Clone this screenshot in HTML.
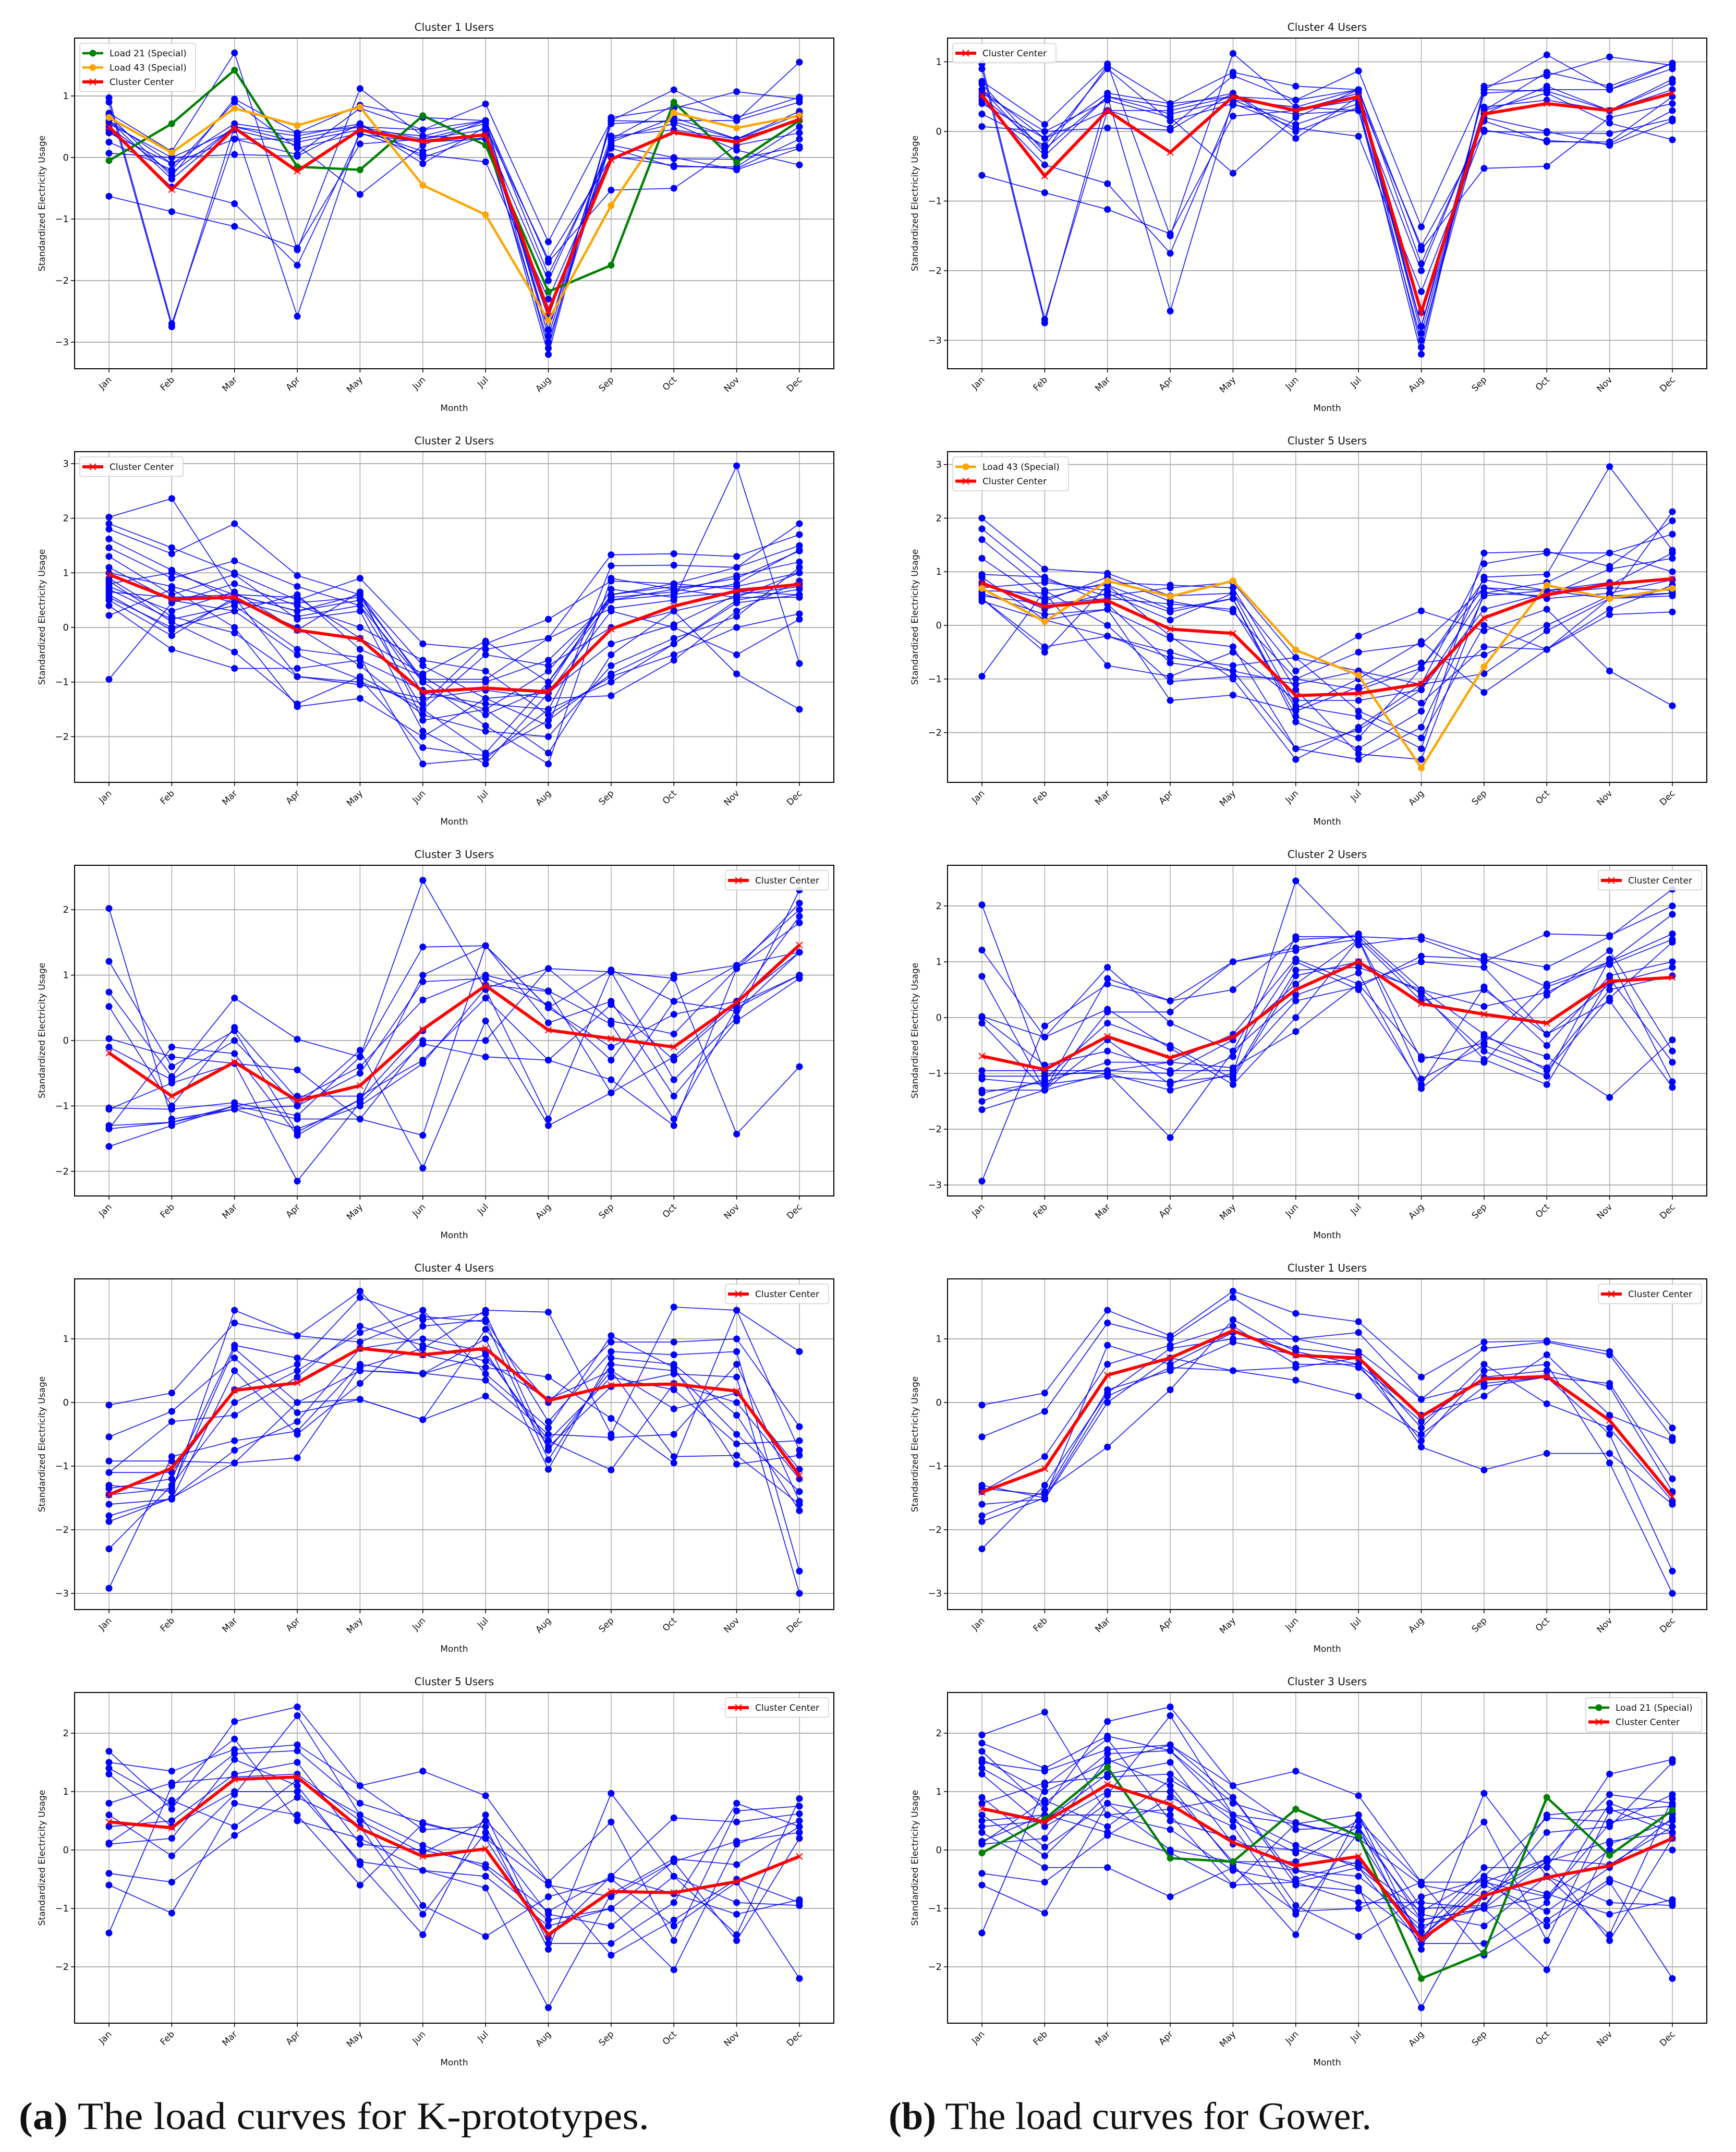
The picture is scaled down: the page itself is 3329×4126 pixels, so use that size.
<!DOCTYPE html>
<html><head><meta charset="utf-8">
<style>
html,body{margin:0;padding:0;background:#fff;}
svg{display:block;}
text{font-family:"DejaVu Sans","Liberation Sans",sans-serif;fill:#111;}
.cap{font-family:"Liberation Serif",serif;}
</style></head>
<body>
<svg id="fig" xmlns="http://www.w3.org/2000/svg" width="3329" height="4126" viewBox="0 0 3329 4126">
<text class="cap" x="36" y="4082" font-size="74" textLength="1209" lengthAdjust="spacingAndGlyphs"><tspan font-weight="bold">(a)</tspan> The load curves for K-prototypes.</text>
<text class="cap" x="1704" y="4082" font-size="74" textLength="926" lengthAdjust="spacingAndGlyphs"><tspan font-weight="bold">(b)</tspan> The load curves for Gower.</text>
</svg>
<script>
const months = ["Jan","Feb","Mar","Apr","May","Jun","Jul","Aug","Sep","Oct","Nov","Dec"];

// ---- K-prototypes Cluster 1 ----
const k1Center = [0.5,-0.52,0.48,-0.22,0.45,0.26,0.37,-2.5,-0.03,0.41,0.25,0.62];
const k1Load21 = [-0.05,0.55,1.42,-0.15,-0.2,0.68,0.2,-2.18,-1.75,0.9,-0.08,0.6];
const k1Load43 = [0.65,0.08,0.8,0.52,0.82,-0.45,-0.93,-2.65,-0.78,0.73,0.48,0.68];
const k1Users = [
[0.97,-2.7,0.3,0.3,0.5,0.3,0.55,-3.1,0.6,1.1,0.6,1.55],
[0.9,-2.75,0.5,-2.58,0.45,0.1,0.4,-3.2,0.65,0.8,1.07,0.95],
[0.72,0.1,1.7,-1.5,1.12,0.35,0.6,-2.8,0.55,0.6,0.6,0.9],
[0.68,-0.3,0.95,0.4,0.85,0.65,0.6,-2.9,0.3,0.85,0.65,0.98],
[0.6,-0.1,0.55,0.4,0.5,0.45,0.87,-1.37,0.6,0.58,0.3,0.75],
[0.55,0.0,0.45,0.2,-0.6,0.2,0.6,-1.7,-0.53,-0.5,0.2,0.4],
[0.5,-0.25,0.5,0.35,0.55,0.0,0.35,-2.0,0.2,0.0,-0.2,0.15],
[0.4,-0.1,0.3,0.05,0.8,0.45,0.6,-1.9,0.15,-0.15,-0.15,0.5],
[0.25,-0.2,0.9,0.15,0.4,0.05,-0.07,-2.3,0.02,-0.13,-0.18,0.3],
[0.07,0.0,0.05,0.02,0.55,-0.1,0.5,-1.65,0.0,-0.02,-0.03,0.18],
[-0.63,-0.88,-1.12,-1.47,0.22,0.3,0.45,-2.8,0.3,0.55,0.12,-0.12],
[0.45,-0.48,-0.75,-1.75,0.38,0.25,0.3,-3.0,0.25,0.65,0.3,0.6],
[0.6,-0.35,0.5,0.25,0.45,0.35,0.3,-2.6,0.35,0.45,0.3,0.7]];

// ---- K-prototypes Cluster 2 ----
const k2Center = [0.97,0.52,0.55,-0.05,-0.21,-1.18,-1.11,-1.18,-0.03,0.39,0.67,0.79];
const k2Users = [
[2.02,2.36,0.6,0.3,0.5,-1.2,-1.4,-1.5,0.6,0.8,1.1,1.9],
[1.9,1.46,1.0,0.5,0.9,-0.3,-0.4,-0.2,1.33,1.35,1.3,1.7],
[1.8,1.35,1.9,0.95,0.6,-0.7,-1.3,-1.8,1.13,1.14,1.1,1.5],
[1.62,1.05,0.5,0.2,0.4,-1.0,-1.8,-2.5,0.9,0.7,0.55,1.0],
[1.46,0.9,1.22,0.75,0.4,-1.5,-2.3,-1.0,0.5,0.6,0.8,1.42],
[1.3,0.6,0.97,0.15,0.3,-1.9,-2.5,-1.2,0.3,0.0,-0.5,0.15],
[1.1,0.5,0.3,0.6,-0.4,-0.9,-1.6,-1.1,0.7,0.55,0.65,0.6],
[0.9,0.2,-0.1,-0.9,-1.0,-1.4,-0.3,0.15,0.85,0.8,0.7,0.8],
[0.85,0.1,-0.45,-1.4,-0.9,-1.5,-0.5,-0.7,0.0,0.3,-0.85,-1.5],
[0.75,0.3,0.65,-0.05,0.65,-1.7,-1.5,-2.3,-0.5,0.3,0.55,0.55],
[0.7,0.15,0.4,-0.4,-0.55,-2.5,-2.4,-1.5,-1.0,-0.3,0.5,0.7],
[0.65,0.55,0.6,0.3,0.6,-1.0,-1.0,-0.6,0.5,0.7,0.9,1.4],
[0.6,-0.05,0.5,0.0,-0.7,-1.6,-1.9,-2.0,-0.7,-0.2,0.2,1.1],
[0.5,-0.15,0.55,-0.9,-1.05,-1.3,-1.15,-1.3,-1.25,-0.6,0.3,0.85],
[0.4,-0.4,-0.75,-0.75,-0.6,-1.15,-1.5,-0.8,0.55,0.65,0.95,1.2],
[0.22,0.7,0.0,-1.45,-1.3,-2.0,-1.3,-1.2,-0.3,0.05,0.6,0.75],
[-0.95,0.45,0.8,0.4,0.0,-0.6,-0.8,-1.6,-0.9,-0.5,0.0,0.25],
[1.0,0.75,0.45,0.45,0.55,-0.95,-0.95,-0.2,0.35,0.5,2.96,-0.66],
[0.8,1.0,0.6,0.55,-0.2,-0.85,-0.25,-1.0,0.6,0.75,0.75,1.0],
[0.55,0.0,0.3,-0.5,-0.95,-2.2,-2.35,-1.7,-0.85,-0.3,0.45,0.6]];

// ---- K-prototypes Cluster 3 ----
const k3Center = [-0.19,-0.85,-0.33,-0.92,-0.69,0.17,0.84,0.16,0.03,-0.1,0.58,1.46];
const k3Users = [
[2.02,-1.2,-1.05,-1.35,-1.0,-0.35,0.8,1.1,0.3,0.1,1.1,2.1],
[1.21,-0.4,0.15,-1.4,-0.9,1.0,1.45,0.5,1.08,0.6,1.15,1.35],
[0.74,-0.55,0.65,0.02,-0.25,2.45,0.78,-1.2,1.05,-0.6,0.35,2.3],
[0.52,-1.0,0.2,-0.9,-0.4,0.62,1.0,0.76,0.25,-1.2,0.5,1.0],
[0.03,-0.25,-0.35,-0.45,-1.2,-1.45,1.45,0.5,-0.1,0.4,0.6,1.9],
[-0.1,-0.6,0.0,-1.0,-0.5,0.9,0.95,0.55,-0.3,1.0,1.15,2.0],
[-1.03,-1.05,-0.95,-1.15,-0.25,1.43,1.45,0.27,0.6,-0.85,0.3,0.95],
[-1.3,-1.25,-1.0,-0.85,-0.85,-0.3,0.65,-0.3,-0.6,-1.3,1.1,1.8],
[-1.35,-1.25,-1.05,-1.0,-0.15,-1.95,0.3,-1.3,-0.8,0.6,0.45,1.35],
[-1.62,-1.3,-1.0,-1.2,-1.2,0.0,0.0,1.1,1.05,0.95,-1.43,-0.4],
[-1.35,-0.1,-0.2,-1.45,-0.9,0.15,0.85,0.75,-0.8,-0.25,0.6,1.35],
[-1.05,-0.65,-0.35,-2.15,-0.95,-0.05,-0.25,-0.3,0.55,-0.3,0.55,1.0]];

// ---- K-prototypes Cluster 4 ----
const k4Center = [-1.45,-1.03,0.19,0.31,0.85,0.75,0.85,0.03,0.27,0.29,0.18,-1.15];
const k4Users = [
[-0.04,0.15,1.25,1.05,1.75,0.75,0.55,0.4,-0.25,-0.95,1.45,0.8],
[-0.54,-0.14,0.7,-0.16,0.05,-0.27,1.15,0.0,0.95,0.95,1.0,-0.38],
[-0.92,-0.92,-0.95,-0.87,0.55,0.85,1.45,1.42,-0.5,1.5,1.45,-0.75],
[-1.1,-1.1,0.2,0.6,1.65,1.3,1.4,-0.75,0.5,-0.85,-0.83,-1.6],
[-1.3,-1.4,1.45,1.05,0.95,1.35,1.27,-0.9,0.6,0.5,-0.5,-1.4],
[-1.35,-1.2,0.9,0.7,0.5,0.46,0.35,-0.5,-0.55,-0.5,0.6,-1.55],
[-1.45,-1.35,0.85,0.0,0.5,0.45,1.0,-1.05,0.7,0.6,-0.2,-1.7],
[-1.6,-1.52,0.5,-0.5,0.3,1.2,1.3,-0.3,0.8,0.75,0.8,-2.65],
[-1.78,-1.5,-0.75,-0.3,0.85,1.0,0.8,-0.7,0.25,0.45,0.4,-3.0],
[-1.87,-1.5,-0.95,0.0,0.05,-0.27,0.1,-0.6,-1.06,0.3,0.0,-1.2],
[-2.3,-1.3,0.0,0.5,1.1,1.45,0.45,-0.4,1.05,0.55,-0.97,-0.83],
[-2.92,-0.85,-0.6,-0.45,0.6,0.45,0.75,-0.6,0.4,0.2,-0.65,-0.6],
[-1.1,-0.3,-0.2,0.4,1.2,0.9,0.65,0.05,0.5,-0.1,0.15,-1.05]];

// ---- K-prototypes Cluster 5 ----
const k5Center = [0.48,0.38,1.21,1.25,0.37,-0.11,0.02,-1.45,-0.71,-0.73,-0.54,-0.11];
const k5Users = [
[1.69,0.7,2.2,2.45,1.1,0.35,0.4,-1.7,0.97,-0.45,-1.45,0.88],
[1.5,1.35,1.72,1.8,1.1,1.35,0.93,-0.55,0.48,-1.55,0.67,0.75],
[1.4,0.8,1.65,1.7,0.8,0.47,0.2,-1.5,-0.45,0.55,0.48,0.62],
[1.3,0.4,1.0,1.0,-0.2,-0.35,-0.65,-2.7,-0.75,-0.15,-0.25,0.4],
[0.8,1.15,1.25,1.3,0.5,-0.05,0.5,-0.55,-1.8,-1.2,-0.5,-0.9],
[0.6,-0.1,0.95,2.3,0.6,0.08,-0.3,-1.2,-1.0,-0.2,-1.55,0.2],
[0.12,0.85,0.4,1.2,0.6,-0.95,-1.48,-0.8,-0.5,-1.3,-0.55,-2.2],
[0.1,0.2,1.55,1.1,-0.25,-1.45,0.6,-1.6,-1.6,-0.9,0.8,0.4],
[-0.4,-0.55,0.25,0.9,0.4,-1.1,0.3,-1.1,-1.3,-0.45,-0.9,-0.95],
[-0.6,-1.08,0.8,0.6,-0.6,0.45,0.2,-0.6,-0.8,-0.2,0.15,0.3],
[-1.42,1.1,1.9,0.5,0.2,-0.35,-0.45,-1.3,-1.0,-2.05,0.1,0.5],
[0.4,0.5,1.3,1.5,0.1,0.0,-0.25,-1.05,-0.45,-0.75,-1.1,-0.85]];

// ---- Gower Cluster 4 ----
const g4Center = [0.52,-0.64,0.3,-0.3,0.5,0.3,0.5,-2.6,0.25,0.4,0.3,0.55];
const g4Users = [
[0.97,-2.7,0.3,0.3,0.5,0.3,0.55,-3.1,0.6,1.1,0.6,0.98],
[0.9,-2.75,0.5,-2.58,0.45,0.1,0.4,-3.2,0.65,0.8,1.07,0.95],
[0.72,0.1,0.97,-1.5,1.12,0.35,0.6,-2.8,0.55,0.6,0.6,0.9],
[0.68,-0.3,0.95,0.4,0.85,0.65,0.6,-2.9,0.3,0.85,0.65,0.98],
[0.6,-0.1,0.55,0.4,0.5,0.45,0.87,-1.37,0.6,0.58,0.3,0.75],
[0.55,0.0,0.45,0.2,-0.6,0.2,0.6,-1.7,-0.53,-0.5,0.2,0.4],
[0.5,-0.25,0.5,0.35,0.55,0.0,0.35,-2.0,0.2,0.0,-0.2,0.15],
[0.4,-0.1,0.3,0.05,0.8,0.45,0.6,-1.9,0.15,-0.15,-0.15,0.5],
[0.25,-0.2,0.9,0.15,0.4,0.05,-0.07,-2.3,0.02,-0.13,-0.18,0.3],
[0.07,0.0,0.05,0.02,0.55,-0.1,0.5,-1.65,0.0,-0.02,-0.03,0.18],
[-0.63,-0.88,-1.12,-1.47,0.22,0.3,0.45,-2.8,0.3,0.55,0.12,-0.12],
[0.45,-0.48,-0.75,-1.75,0.38,0.25,0.3,-3.0,0.25,0.65,0.3,0.6],
[0.6,-0.35,0.5,0.25,0.45,0.35,0.3,-2.6,0.35,0.45,0.3,0.7]];

// ---- Gower Cluster 5 ----
const g5Center = [0.79,0.35,0.46,-0.07,-0.15,-1.31,-1.27,-1.09,0.14,0.57,0.77,0.87];
const g5Load43 = [0.69,0.07,0.83,0.54,0.83,-0.46,-0.93,-2.66,-0.77,0.75,0.5,0.69];
const g5Users = [
[2.0,1.05,0.97,0.55,0.6,-1.5,-1.7,-2.3,1.35,1.38,1.1,1.95],
[1.8,0.85,0.55,0.7,0.8,-0.6,-0.85,-1.1,1.15,1.35,1.35,1.7],
[1.6,0.65,0.75,0.3,0.5,-1.8,-2.3,-1.6,0.9,0.95,2.96,1.4],
[1.25,0.45,0.9,0.45,0.25,-1.0,-0.5,-0.35,0.7,0.5,0.6,0.85],
[0.9,0.1,0.3,-0.25,-0.4,-2.3,-2.5,-1.9,0.55,0.65,0.75,1.35],
[0.8,0.3,0.6,0.1,0.6,-0.85,-0.2,0.27,-0.1,0.3,-0.85,-1.5],
[0.75,0.5,0.8,0.75,0.7,-1.2,-2.4,-2.5,0.6,0.8,1.35,1.0],
[0.65,0.6,-0.75,-0.95,-0.5,-1.4,-1.4,-1.2,0.3,0.6,0.7,0.65],
[0.6,0.2,0.3,-1.4,-1.3,-1.6,-1.15,-0.7,-0.55,0.0,0.55,0.6],
[0.55,0.4,0.5,0.4,0.3,-1.55,-1.0,-0.3,-1.25,-0.45,0.3,0.75],
[0.5,-0.4,-0.2,-0.6,-0.75,-0.6,-1.6,-2.1,0.0,-0.45,0.2,0.25],
[0.5,-0.5,0.75,-0.2,-1.0,-2.5,-1.9,-1.1,-0.9,-0.1,0.5,2.12],
[-0.95,0.65,0.0,-1.05,-0.95,-1.0,-1.2,-0.8,0.7,0.65,0.5,0.6],
[0.7,0.8,0.65,0.25,0.5,-1.7,-2.1,-0.8,0.85,0.65,0.8,0.85],
[0.45,0.1,-0.2,-0.5,-0.85,-1.1,-0.85,-1.45,-0.4,-0.45,0.5,0.55],
[0.95,0.9,0.4,-0.7,-0.85,-2.3,-1.95,-1.2,0.6,0.55,1.05,1.25]];

// ---- Gower Cluster 2 ----
const g2Center = [-0.69,-0.93,-0.34,-0.72,-0.35,0.5,1.0,0.25,0.06,-0.1,0.65,0.72];
const g2Users = [
[2.02,-1.0,-1.0,-1.3,-1.0,2.45,1.3,1.45,1.1,0.9,1.45,2.3],
[1.21,-0.35,0.9,-0.1,-0.6,1.45,1.45,1.4,1.0,1.5,1.47,2.0],
[0.74,-1.3,0.7,0.3,1.0,1.2,1.5,0.5,0.2,0.45,1.0,1.85],
[0.02,-0.35,0.15,-0.55,-1.2,0.0,1.4,0.3,0.5,-0.3,0.3,-1.25],
[-0.1,-1.3,0.1,0.1,1.0,1.25,1.4,-0.75,-0.45,0.6,1.0,1.5],
[-0.95,-0.95,-0.95,-0.8,-0.9,-0.25,0.6,1.0,0.9,-0.3,0.6,0.9],
[-1.05,-1.05,-0.95,-1.0,-0.4,0.6,1.4,-1.1,-0.5,-0.9,0.5,0.75],
[-1.1,-1.2,-1.05,-1.15,-1.05,0.85,0.9,0.5,-0.3,-0.95,0.35,1.35],
[-1.3,-1.3,-0.4,-1.2,-0.7,1.0,0.5,-1.2,0.55,-0.5,0.75,1.0],
[-1.35,-1.15,-0.8,-0.8,-0.3,1.05,0.6,-0.7,-0.8,0.4,1.2,-0.6],
[-1.5,-1.1,-0.1,-0.5,-1.1,0.75,1.0,0.45,-0.75,-1.2,0.7,-0.8],
[-1.65,-1.3,-1.0,-2.15,-0.6,0.4,0.8,-1.27,-0.35,-0.7,-1.43,-0.4],
[-2.93,-0.15,0.6,0.3,0.5,1.4,1.45,0.4,-0.6,-1.05,1.05,-1.15],
[0.0,-0.85,-0.6,-0.95,-0.95,0.3,0.55,1.1,1.05,0.55,0.95,1.4]];

// ---- Gower Cluster 1 ----
const g1Center = [-1.41,-1.04,0.43,0.7,1.13,0.74,0.7,-0.22,0.37,0.41,-0.28,-1.48];
const g1Users = [
[-0.04,0.15,1.45,1.05,1.75,1.4,1.27,0.4,0.95,0.97,0.8,-0.4],
[-0.54,-0.14,1.25,1.0,1.65,1.0,1.1,0.05,0.85,0.95,0.75,-0.55],
[-1.3,-1.5,0.9,0.6,1.1,0.85,0.75,-0.7,-1.06,-0.8,-0.8,-1.6],
[-1.35,-1.45,0.2,0.5,0.95,0.75,0.55,-0.3,0.4,0.5,0.25,-1.4],
[-1.6,-1.52,0.0,0.7,0.5,0.35,0.1,-0.5,0.25,0.4,-0.5,-2.65],
[-1.78,-1.4,-0.7,0.2,1.3,0.8,0.6,-0.6,0.5,0.6,-0.95,-3.0],
[-1.87,-1.5,0.1,0.55,0.5,0.55,0.7,-0.4,0.6,-0.02,-0.4,-1.55],
[-2.3,-1.3,0.15,0.85,1.0,1.0,0.8,0.05,0.3,0.4,0.3,-1.2],
[-1.4,-0.85,0.6,0.9,1.2,0.6,0.6,-0.2,0.1,0.75,-0.2,-0.6]];

// ---- Gower Cluster 3 ----
const g3Center = [0.71,0.48,1.12,0.78,0.13,-0.27,-0.11,-1.53,-0.78,-0.47,-0.27,0.2];
const g3Load21 = [-0.05,0.53,1.42,-0.14,-0.2,0.7,0.24,-2.2,-1.76,0.9,-0.09,0.68];
const g3Extra = [
[1.97,2.36,0.6,0.7,0.9,-0.5,-0.2,-1.4,-0.3,-0.3,1.3,1.55],
[1.83,1.4,1.95,1.7,0.6,0.45,0.6,-1.0,-0.95,0.3,0.4,1.5],
[1.55,1.0,1.5,1.8,0.9,-0.6,-0.7,-1.5,-0.55,-0.15,0.95,0.8],
[0.9,0.05,0.8,0.0,-0.2,-0.2,0.4,-1.2,-1.0,0.6,0.7,0.3],
[0.5,0.6,0.3,-0.05,-0.6,-0.55,-0.9,-0.9,-1.0,-0.8,0.45,0.95],
[0.3,-0.3,-0.3,-0.8,-0.3,-1.05,-1.0,-0.55,-0.55,-0.8,0.0,0.0],
[0.15,0.6,0.6,0.35,-0.35,-0.55,-0.3,-1.6,-0.6,-1.05,-0.3,0.55]];
const g3Users = k5Users.concat(g3Extra);

// ---- tick values per panel ----
const yTicksK1 = [-3,-2,-1,0,1];
const yTicksK2 = [-2,-1,0,1,2,3];
const yTicksK3 = [-2,-1,0,1,2];
const yTicksK4 = [-3,-2,-1,0,1];
const yTicksK5 = [-2,-1,0,1,2];
const yTicksG4 = [-3,-2,-1,0,1];
const yTicksG5 = [-2,-1,0,1,2,3];
const yTicksG2 = [-3,-2,-1,0,1,2];

const svg = document.getElementById('fig');
const NS = 'http://www.w3.org/2000/svg';
const defs = document.createElementNS(NS, 'defs');
svg.appendChild(defs);
function mk(tag, attrs, parent){
  const e = document.createElementNS(NS, tag);
  for (const k in attrs) e.setAttribute(k, attrs[k]);
  (parent||svg).appendChild(e);
  return e;
}
const PW = 1456, PH = 634;
let clipN = 0;

function panel(cfg){
  const L = cfg.L, T = cfg.T;
  const yMax = cfg.yMax, yMin = cfg.yMin;
  const xS = i => L + 66 + i * 120.36;
  const yS = v => T + (yMax - v) / (yMax - yMin) * PH;
  const cid = 'clip' + (clipN++);
  const cp = mk('clipPath', {id:cid}, defs);
  mk('rect', {x:L, y:T, width:PW, height:PH}, cp);
  const g = mk('g', {});
  
  
  cfg.ticks.forEach(t => {
    const gl = mk('line', {x1:L, x2:L+PW, y1:yS(t), y2:yS(t), stroke:'#b0b0b0', 'stroke-width':2}, g);
    
    
    mk('line', {x1:L-7, x2:L, y1:yS(t), y2:yS(t), stroke:'#000', 'stroke-width':1.5}, g);
    const tl = mk('text', {x:L-11, y:yS(t)+6, 'font-size':18, 'text-anchor':'end'}, g);
    tl.textContent = t < 0 ? '\u2212' + Math.abs(t) : String(t);
    
    
  });
  months.forEach((m, i) => {
    const x = xS(i);
    const gl = mk('line', {x1:x, x2:x, y1:T, y2:T+PH, stroke:'#b0b0b0', 'stroke-width':1.5}, g);
    
    
    mk('line', {x1:x, x2:x, y1:T+PH, y2:T+PH+7, stroke:'#000', 'stroke-width':1.5}, g);
    const tl = mk('text', {x:x+6, y:T+PH+22, 'font-size':17, 'text-anchor':'end', transform:`rotate(-45 ${x+6} ${T+PH+22})`}, g);
    tl.textContent = m;
    
    
  });
  const data = mk('g', {'clip-path':`url(#${cid})`}, g);
  
  
  cfg.users.forEach(u => {
    const pts = u.map((v,i) => xS(i).toFixed(1)+','+yS(v).toFixed(1)).join(' ');
    const pl = mk('polyline', {points:pts, fill:'none', stroke:'#0000ff', 'stroke-width':1.8, 'stroke-opacity':0.85}, data);
    
    
    u.forEach((v,i) => {
      const c = mk('circle', {cx:xS(i), cy:yS(v), r:6.5, fill:'#0000ff'}, data);
      
      
    });
  });
  (cfg.specials||[]).forEach(s => {
    const pts = s.data.map((v,i) => xS(i).toFixed(1)+','+yS(v).toFixed(1)).join(' ');
    const pl = mk('polyline', {points:pts, fill:'none', stroke:s.color, 'stroke-width':4.5}, data);
    
    
    s.data.forEach((v,i) => {
      const c = mk('circle', {cx:xS(i), cy:yS(v), r:6.5, fill:s.color}, data);
      
      
    });
  });
  const cpts = cfg.center.map((v,i) => xS(i).toFixed(1)+','+yS(v).toFixed(1)).join(' ');
  const cl = mk('polyline', {points:cpts, fill:'none', stroke:'#ff0000', 'stroke-width':6}, data);
  
  
  cfg.center.forEach((v,i) => {
    const x = xS(i), y = yS(v);
    const m = mk('path', {d:`M${x-6},${y-6}L${x+6},${y+6}M${x-6},${y+6}L${x+6},${y-6}`, stroke:'#ff0000', 'stroke-width':2}, data);
    
    
  });
  const fr = mk('rect', {x:L, y:T, width:PW, height:PH, fill:'none', stroke:'#000', 'stroke-width':2}, g);
  
  
  const ti = mk('text', {x:L+PW/2, y:T-14, 'font-size':20, 'text-anchor':'middle'}, g);
  ti.textContent = cfg.title;
  
  
  const xl = mk('text', {x:L+PW/2, y:T+PH+81, 'font-size':17, 'text-anchor':'middle'}, g);
  xl.textContent = 'Month';
  
  
  const yx = L-57, yy = T+PH/2;
  const yl = mk('text', {x:yx, y:yy, 'font-size':17, 'text-anchor':'middle', transform:`rotate(-90 ${yx} ${yy})`}, g);
  yl.textContent = 'Standardized Electricity Usage';
  
  
  const entries = (cfg.specials||[]).map(s => ({label:s.label, color:s.color, type:'o'}));
  entries.push({label:'Cluster Center', color:'#ff0000', type:'x'});
  const w = (cfg.specials||[]).length ? 222 : 198;
  const lh = 10 + entries.length * 27.5;
  const lx = cfg.legendRight ? L + PW - 10 - w : L + 10;
  const ly = T + 10;
  const lg = mk('g', {}, g);
  
  
  mk('rect', {x:lx, y:ly, width:w, height:lh, rx:4, fill:'#fff', 'fill-opacity':0.85, stroke:'#d0d0d0', 'stroke-width':1.5}, lg);
  entries.forEach((e, k) => {
    const cy = ly + 19 + k*27.5;
    const eg = mk('g', {}, lg);
    
    
    mk('line', {x1:lx+5, x2:lx+45, y1:cy, y2:cy, stroke:e.color, 'stroke-width':e.type==='x'?6:4.5}, eg);
    if (e.type === 'o') mk('circle', {cx:lx+25, cy:cy, r:6.5, fill:e.color}, eg);
    else mk('path', {d:`M${lx+19},${cy-6}L${lx+31},${cy+6}M${lx+19},${cy+6}L${lx+31},${cy-6}`, stroke:e.color, 'stroke-width':2}, eg);
    const t = mk('text', {x:lx+57, y:cy+6, 'font-size':17}, eg);
    t.textContent = e.label;
  });
}

const LL = 143, RL = 1817, TOPS = [73, 866, 1659, 2452, 3245];
function dom(zeroOff, unit){ return {yMax: zeroOff/unit, yMin: -(PH-zeroOff)/unit}; }

const panels = [
 Object.assign({name:'panel-kproto-cluster1', L:LL, T:TOPS[0], title:'Cluster 1 Users', ticks:yTicksK1, users:k1Users, center:k1Center,
   specials:[{key:'load-21-line', label:'Load 21 (Special)', color:'#008000', data:k1Load21},{key:'load-43-line', label:'Load 43 (Special)', color:'#ffa500', data:k1Load43}]}, dom(229,118)),
 Object.assign({name:'panel-kproto-cluster2', L:LL, T:TOPS[1], title:'Cluster 2 Users', ticks:yTicksK2, users:k2Users, center:k2Center}, dom(337,104.7)),
 Object.assign({name:'panel-kproto-cluster3', L:LL, T:TOPS[2], title:'Cluster 3 Users', ticks:yTicksK3, users:k3Users, center:k3Center, legendRight:true}, dom(336,125.4)),
 Object.assign({name:'panel-kproto-cluster4', L:LL, T:TOPS[3], title:'Cluster 4 Users', ticks:yTicksK4, users:k4Users, center:k4Center, legendRight:true}, dom(237,122)),
 Object.assign({name:'panel-kproto-cluster5', L:LL, T:TOPS[4], title:'Cluster 5 Users', ticks:yTicksK5, users:k5Users, center:k5Center, legendRight:true}, dom(302,112)),
 Object.assign({name:'panel-gower-cluster4', L:RL, T:TOPS[0], title:'Cluster 4 Users', ticks:yTicksG4, users:g4Users, center:g4Center}, dom(179,133.5)),
 Object.assign({name:'panel-gower-cluster5', L:RL, T:TOPS[1], title:'Cluster 5 Users', ticks:yTicksG5, users:g5Users, center:g5Center,
   specials:[{key:'load-43-line', label:'Load 43 (Special)', color:'#ffa500', data:g5Load43}]}, dom(333,102.8)),
 Object.assign({name:'panel-gower-cluster2', L:RL, T:TOPS[2], title:'Cluster 2 Users', ticks:yTicksG2, users:g2Users, center:g2Center, legendRight:true}, dom(292,107)),
 Object.assign({name:'panel-gower-cluster1', L:RL, T:TOPS[3], title:'Cluster 1 Users', ticks:yTicksK4, users:g1Users, center:g1Center, legendRight:true}, dom(237,122)),
 Object.assign({name:'panel-gower-cluster3', L:RL, T:TOPS[4], title:'Cluster 3 Users', ticks:yTicksK5, users:g3Users, center:g3Center, legendRight:true,
   specials:[{key:'load-21-line', label:'Load 21 (Special)', color:'#008000', data:g3Load21}]}, dom(302,112))
];
panels.forEach(panel);
</script>
</body></html>
